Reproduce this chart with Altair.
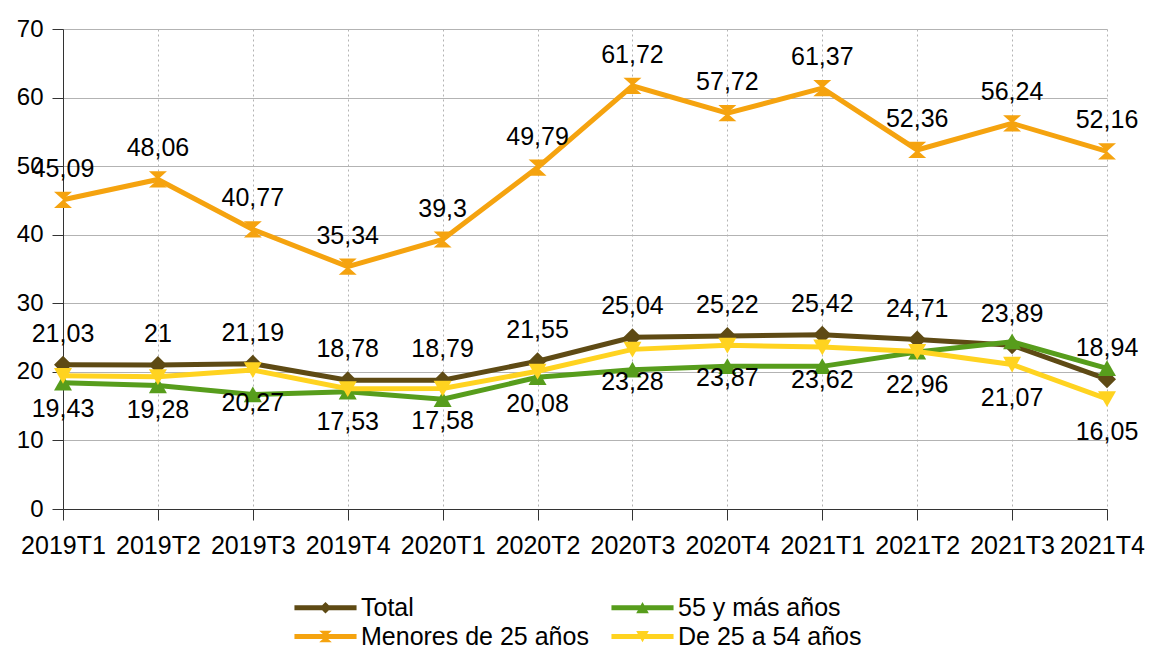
import altair as alt
import pandas as pd

periods = ["2019T1", "2019T2", "2019T3", "2019T4", "2020T1", "2020T2",
           "2020T3", "2020T4", "2021T1", "2021T2", "2021T3", "2021T4"]
total = [21.03, 21.00, 21.19, 18.78, 18.79, 21.55, 25.04, 25.22, 25.42, 24.71, 23.89, 18.94]
menores25 = [45.09, 48.06, 40.77, 35.34, 39.30, 49.79, 61.72, 57.72, 61.37, 52.36, 56.24, 52.16]
mayores55 = [18.4, 18.0, 16.7, 17.1, 16.0, 19.2, 20.3, 20.8, 20.8, 22.9, 24.4, 20.5]
de25a54 = [19.43, 19.28, 20.27, 17.53, 17.58, 20.08, 23.28, 23.87, 23.62, 22.96, 21.07, 16.05]

series_names = ["Total", "Menores de 25 años", "55 y más años", "De 25 a 54 años"]
series_values = [total, menores25, mayores55, de25a54]
label_pos = ["above", "above", "none", "below"]
legend_order = ["Total", "Menores de 25 años", "55 y más años", "De 25 a 54 años"]

colors = {"Total": "#5e4a14", "Menores de 25 años": "#f5a30f",
          "55 y más años": "#579d1c", "De 25 a 54 años": "#ffd320"}
markers = {
    "Total": "M0,-1L1,0L0,1L-1,0Z",
    "Menores de 25 años": "M-1,-0.9L1,-0.9L0,0Z M0,0L1,0.9L-1,0.9Z",
    "55 y más años": "M0,-0.9L1,0.85L-1,0.85Z",
    "De 25 a 54 años": "M-1,-0.85L1,-0.85L0,0.9Z",
}
legend_markers = {
    "Total": "M0,-0.65L0.65,0L0,0.65L-0.65,0Z",
    "Menores de 25 años": "M-0.7,-0.65L0.7,-0.65L0,0Z M0,0L0.7,0.65L-0.7,0.65Z",
    "55 y más años": "M0,-0.65L0.7,0.6L-0.7,0.6Z",
    "De 25 a 54 años": "M-0.7,-0.6L0.7,-0.6L0,0.65Z",
}
bar = "M-3.45,-0.28L3.45,-0.28L3.45,0.28L-3.45,0.28Z "

rows = []
for name, vals, pos in zip(series_names, series_values, label_pos):
    for p, v in zip(periods, vals):
        rows.append({"period": p, "series": name, "value": v, "pos": pos,
                     "label": f"{v:g}".replace(".", ",")})
df = pd.DataFrame(rows)

FONT = "Liberation Sans"
base = alt.Chart(df)
x = alt.X("period:N", sort=periods, scale=alt.Scale(type="point", padding=0),
          axis=alt.Axis(title=None, labelAngle=0, labelFontSize=25, labelPadding=13,
                        labelOffset={"condition": {"test": "datum.value == '2021T4'", "value": -5},
                                     "value": 0},
                        tickSize=11, grid=True, gridDash=[2, 3], gridColor="#b3b3b3",
                        domainColor="#333333", tickColor="#333333", labelColor="#000000"))
y = alt.Y("value:Q", scale=alt.Scale(domain=[0, 70], nice=False),
          axis=alt.Axis(title=None, values=list(range(0, 71, 10)), labelFontSize=24,
                        labelPadding=9, tickSize=11, grid=True, gridColor="#b3b3b3",
                        domainColor="#333333", tickColor="#333333", labelColor="#000000"))

layers = []
for name in series_names:
    sub = base.transform_filter(alt.datum.series == name)
    layers.append(sub.mark_line(color=colors[name], strokeWidth=5).encode(x=x, y=y))
    layers.append(sub.mark_point(shape=markers[name], filled=True, fill=colors[name],
                                 opacity=1, size=324, strokeWidth=0).encode(x=x, y=y))

above = base.transform_filter(alt.datum.pos == "above").mark_text(
    font=FONT, fontSize=25, baseline="alphabetic", dy=-23, color="#000000"
).encode(x=x, y=y, text="label:N")
below = base.transform_filter(alt.datum.pos == "below").mark_text(
    font=FONT, fontSize=25, baseline="alphabetic", dy=41, color="#000000"
).encode(x=x, y=y, text="label:N")

leg = alt.Legend(title=None, orient="none", legendX=250, legendY=566, columns=2,
                 columnPadding=22, rowPadding=3, labelFontSize=25, labelFont=FONT,
                 labelColor="#000000", symbolSize=324, labelOffset=23,
                 symbolStrokeWidth=0, labelLimit=400)
legend_layer = base.transform_filter("false").mark_point(filled=True, opacity=1).encode(
    x=x, y=y,
    color=alt.Color("series:N", scale=alt.Scale(domain=legend_order,
                    range=[colors[n] for n in legend_order]), legend=leg),
    shape=alt.Shape("series:N", scale=alt.Scale(domain=legend_order,
                    range=[bar + legend_markers[n] for n in legend_order]), legend=leg),
)

chart = alt.layer(*layers, above, below, legend_layer).properties(
    width=1044, height=480,
    autosize=alt.AutoSizeParams(type="none"),
    padding={"left": 55, "top": 21, "right": 38, "bottom": 141},
).configure(font=FONT).configure_view(stroke=None)

chart.save("out.html", embed_options={"renderer": "svg", "actions": False})
